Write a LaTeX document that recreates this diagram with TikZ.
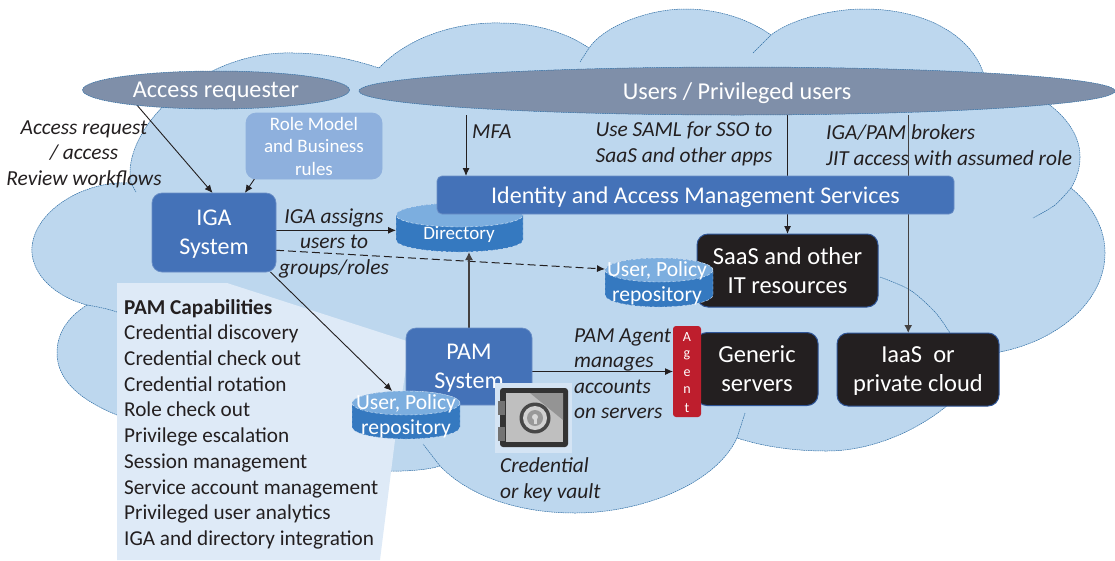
\documentclass[tikz,border=0pt]{standalone}
\usepackage{fontspec}
\setmainfont{Carlito}
\usetikzlibrary{arrows.meta,shapes.geometric}
\definecolor{cloudblue}{HTML}{BDD7EE}
\definecolor{cloudedge}{HTML}{2E6DA4}
\definecolor{paleblue}{HTML}{DEEAF7}
\definecolor{boxblue}{HTML}{4472B8}
\definecolor{roleblue}{HTML}{8EB0DD}
\definecolor{usergrey}{HTML}{7F8FA9}
\definecolor{darkbox}{HTML}{231F20}
\definecolor{darkedge}{HTML}{2F5597}
\definecolor{agentred}{HTML}{BE1E2D}
\definecolor{cylside}{HTML}{3579C0}
\definecolor{cyltop}{HTML}{7CAEDF}
\pgfdeclarelayer{background}
\pgfsetlayers{background,main}
\tikzset{
  cloudline/.style={draw=cloudedge,line width=0.5pt,dash pattern=on 1.6pt off 0.7pt},
  userell/.style={ellipse,fill=usergrey,draw=cloudedge,line width=0.5pt,dash pattern=on 1.6pt off 0.7pt,
    inner sep=0pt,outer sep=0pt,text=white,text depth=0pt,font=\fontsize{24.2}{29}\selectfont},
  bluebox/.style={rectangle,rounded corners=10pt,fill=boxblue,draw=boxblue!80!white,line width=0.7pt,
    inner sep=0pt,outer sep=0pt,text=white,text depth=0pt,align=center,font=\fontsize{24}{29}\selectfont},
  darkserver/.style={rectangle,rounded corners=11pt,fill=darkbox,draw=darkedge,line width=1pt,
    inner sep=0pt,outer sep=0pt,text=white,text depth=0pt,align=center,font=\fontsize{24.5}{29}\selectfont},
  cylbox/.style={rectangle,inner sep=0pt,outer sep=0pt},
  cylpaint/.style={draw=paleblue,line width=0.4pt,densely dashed},
  cyltext/.style={text=white,text depth=0pt,align=center,inner sep=0pt,font=\fontsize{21.6}{25}\selectfont},
  tag/.style={inner sep=0pt,text=darkbox,font=\fontsize{21.4}{25.5}\selectfont\itshape},
  arr/.style={draw=darkbox,line width=0.9pt,-{Latex[length=8pt,width=7pt]}},
  heavyarr/.style={draw=darkbox!85!white,line width=1.3pt,-{Latex[length=8pt,width=8pt]}},
}
% name, x, y, half width, height
\newcommand{\repocyl}[5]{
  \node (#1) at (#2,#3) [cylbox,minimum width=2*#4 pt,minimum height=#5 pt] {};
  \path[cylpaint,fill=cylside] ([yshift=-12pt]#1.north west) -- ([yshift=12pt]#1.south west)
    arc[start angle=180,end angle=360,x radius=#4 pt,y radius=12pt] -- ([yshift=-12pt]#1.north east)
    arc[start angle=0,end angle=180,x radius=#4 pt,y radius=12pt] -- cycle;
  \path[cylpaint,fill=cyltop] ([yshift=-12pt]#1.north) ellipse[x radius=#4 pt,y radius=12pt];
}
\begin{document}
\begin{tikzpicture}[x=1pt,y=-1pt]
  \useasboundingbox (0,0) rectangle (1115,560);

  % Users on top
  \node (requester) at (216,90) [userell,minimum width=267pt,minimum height=38pt] {Access requester};
  \node (users) at (737,91) [userell,minimum width=756pt,minimum height=48pt] {Users / Privileged users};

  % IGA side
  \node (role) at (314,146) [bluebox,fill=roleblue,draw=roleblue,minimum width=136pt,minimum height=66pt,
    font=\fontsize{19}{22.5}\selectfont] {Role Model\\and Business\\rules};
  \node (iga) at (214,232.5) [bluebox,minimum width=124pt,minimum height=79pt] {IGA\\System};
  \repocyl{directory}{459.5}{227.5}{63.5}{49}
  \node (directorytext) at (459,233) [cyltext,font=\fontsize{19}{23}\selectfont] {Directory};
  \node (iam) at (695.5,195) [bluebox,rounded corners=5pt,minimum width=517pt,minimum height=38pt] {Identity and Access Management Services};
  \coordinate (mfafoot) at (466,176);

  % Resources
  \node (saas) at (787.5,270.5) [darkserver,minimum width=181pt,minimum height=73pt] {SaaS and other\\IT resources};
  \repocyl{repoA}{659}{282.5}{54}{49}
  \node (repoAtext) at (657,281.5) [cyltext] {User, Policy\\repository};
  \node (generic) at (757,369) [darkserver,minimum width=122pt,minimum height=73pt] {Generic\\servers};
  \node (agent) at (687,371.5) [rectangle,rounded corners=3pt,fill=agentred,inner sep=0pt,outer sep=0pt,
    minimum width=28pt,minimum height=91pt] {};
  \foreach \name/\letter/\ypos in {a/A/337,g/g/355,e/e/373,n/n/390,t/t/408}
    \node (agent\name) at (687,\ypos) [inner sep=0pt,text=white,font=\fontsize{14}{16}\selectfont] {\letter};
  \node (iaas) at (918,369.5) [darkserver,minimum width=162pt,minimum height=73pt] {IaaS~~or\\private cloud};

  % PAM side
  \node (pam) at (469,366.5) [bluebox,minimum width=126pt,minimum height=77pt] {PAM\\System};

  % Vault
  \fill[paleblue!70!cloudblue] (495,383) rectangle (572,453);
  \fill[rounded corners=3pt,fill=black!80] (500,388) rectangle (568,447);
  \fill[black!25] (506,393) rectangle (563,442);
  \fill[black!42] (530,393) -- (563,393) -- (563,420) -- cycle;
  \fill[black!55] (498,401) rectangle (505,415);
  \fill[black!55] (498,427) rectangle (505,441);
  \fill[black!72] (535,418) circle (15.5);
  \fill[black!18] (535,418) circle (12);
  \fill[black!40] (535,418) circle (8);
  \fill[white!85!black] (535,417) circle (3);
  \fill[white!85!black] (533.5,417) rectangle (536.5,424);

  \repocyl{repoB}{406}{415}{54}{48}
  \node (repoBtext) at (406,414.5) [cyltext] {User, Policy\\repository};

  % Capability list
  \node (capabilities) at (124,299) [anchor=north west,inner sep=0pt,align=left,text=darkbox,
    font=\fontsize{21.2}{25.7}\selectfont] {\textbf{PAM Capabilities}\\Credential discovery\\Credential check out\\
    Credential rotation\\Role check out\\Privilege escalation\\Session management\\Service account management\\
    Privileged user analytics\\IGA and directory integration};

  % Connector labels
  \node (reqtag) at (84,154) [tag,align=center] {Access request\\/ access\\Review workflows};
  \node (mfatag) at (472,132) [tag,anchor=west] {MFA};
  \node (ssotag) at (684,144) [tag,align=left] {Use SAML for SSO to\\SaaS and other apps};
  \node (brokertag) at (826,145) [tag,align=left,anchor=west] {IGA/PAM brokers\\JIT access with assumed role};
  \node (assigntag) at (334,243) [tag,align=center] {IGA assigns\\users to\\groups/roles};
  \node (agenttag) at (574,373.5) [tag,align=left,anchor=west] {PAM Agent\\manages\\accounts\\on servers};
  \node (vaulttag) at (500,480) [tag,align=left,anchor=west] {Credential\\or key vault};

  \begin{pgfonlayer}{background}
    % Cloud
    \path[cloudline,fill=cloudblue]
      (87,305) .. controls (50,295) and (30,270) .. (32,247) .. controls (35,210) and (85,180) .. (131,183)
      .. controls (120,130) and (200,50) .. (293,53) .. controls (325,53) and (355,60) .. (379,68)
      .. controls (410,35) and (460,22) .. (500,23) .. controls (540,23) and (570,35) .. (589,48)
      .. controls (605,25) and (650,9) .. (685,9) .. controls (720,9) and (750,20) .. (771,35)
      .. controls (790,20) and (830,9) .. (864,9) .. controls (925,9) and (970,35) .. (983,72)
      -- (985,75) .. controls (1040,90) and (1080,120) .. (1080,157) .. controls (1080,168) and (1077,178) .. (1071,188)
      .. controls (1092,205) and (1105,228) .. (1105,253) .. controls (1105,300) and (1060,340) .. (1000,352)
      -- (985,360) .. controls (960,410) and (890,451) .. (827,451) .. controls (795,451) and (765,447) .. (737,438)
      .. controls (715,485) and (640,513) .. (575,513) .. controls (520,513) and (470,497) .. (440,466)
      .. controls (390,482) and (200,460) .. (117,415)
      .. controls (80,400) and (57,380) .. (57,353) .. controls (57,333) and (68,317) .. (87,305)
      -- cycle;
    \draw[cloudline] plot[smooth] coordinates {(131,183) (136,192)};
    \draw[cloudline] plot[smooth] coordinates {(87,305) (117,312) (170,335)};
    \draw[cloudline] plot[smooth] coordinates {(580,62) (589,48)};
    \draw[cloudline] plot[smooth] coordinates {(753,53) (771,35)};
    \draw[cloudline] plot[smooth] coordinates {(1071,188) (1055,205) (1033,218)};
    \draw[cloudline] plot[smooth] coordinates {(880,277) (910,290) (935,312) (950,333)};
    \draw[cloudline] plot[smooth] coordinates {(745,413) (737,438)};
    \draw[cloudline] plot[smooth] coordinates {(440,466) (423,444)};

    % Callout
    \fill[paleblue] (117,283) -- (227,283) -- (410,342) -- (395,440) -- (380,560) -- (117,560) -- cycle;

    % Connectors
    \draw[arr] (requester.191) -- (iga.92);
    \draw[arr] (role.209) -- (iga.52);
    \draw[arr] (mfafoot |- users.south) -- (mfafoot);
    \draw[arr] (users.south -| saas.north) -- (saas.north);
    \draw[heavyarr] (iaas.105 |- users.south) -- (iaas.105);
    \draw[arr] (iga.2) -- (iga.2 -| directory.west);
    \draw[arr,line width=1pt,dash pattern=on 8pt off 4pt] (iga.-16) -- (repoA.166);
    \draw[arr] (iga.-35) -- (repoB.120);
    \draw[heavyarr] (pam.north) -- (pam.north |- directory.south);
    \draw[arr] (agent.west -| pam.east) -- (agent.west);
  \end{pgfonlayer}
\end{tikzpicture}
\end{document}
